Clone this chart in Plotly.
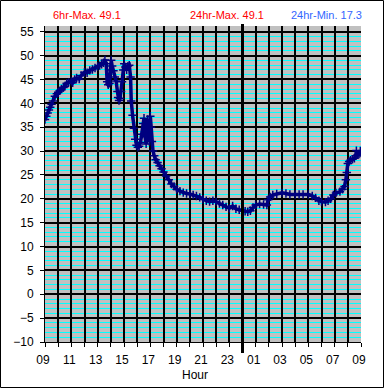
import plotly.graph_objects as go

# Hours since 09:00 (0 .. 24) and temperature readings
hours = [0.0, 0.1, 0.2, 0.3, 0.4, 0.5, 0.6, 0.75, 0.9, 1.0, 1.1, 1.25, 1.4, 1.5, 1.65, 1.8, 2.0, 2.1,
         2.25, 2.4, 2.6, 2.75, 3.0, 3.2, 3.4, 3.6, 3.8, 4.0, 4.15, 4.3, 4.45, 4.55, 4.65, 4.72, 4.8,
         4.9, 4.97, 5.03, 5.1, 5.2, 5.3, 5.4, 5.5, 5.55, 5.62, 5.7, 5.78, 5.85, 5.95, 6.02, 6.1, 6.2,
         6.3, 6.4, 6.5, 6.55, 6.65, 6.75, 6.85, 6.95, 7.05, 7.15, 7.25, 7.35, 7.45, 7.52, 7.6, 7.68,
         7.75, 7.8, 7.88, 7.93, 8.0, 8.05, 8.12, 8.2, 8.3, 8.4, 8.55, 8.7, 8.85, 9.0, 9.2, 9.4, 9.6,
         9.8, 10.0, 10.25, 10.5, 10.75, 11.0, 11.25, 11.5, 11.75, 12.0, 12.25, 12.5, 12.75, 13.0,
         13.25, 13.5, 13.75, 14.0, 14.25, 14.5, 14.75, 15.0, 15.2, 15.4, 15.6, 15.8, 16.0, 16.3,
         16.6, 16.85, 16.95, 17.1, 17.3, 17.6, 18.0, 18.3, 18.6, 19.0, 19.3, 19.6, 20.0, 20.3,
         20.55, 20.8, 21.0, 21.3, 21.5, 21.7, 21.9, 22.1, 22.4, 22.6, 22.75, 22.85, 22.92, 23.0,
         23.1, 23.2, 23.35, 23.5, 23.6, 23.65, 23.75, 23.85, 23.95, 24.0]
temps = [36.6, 37.3, 38.0, 38.6, 39.2, 39.8, 40.5, 41.5, 42.0, 42.3, 42.6, 43.0, 43.3, 43.5, 44.2,
         44.4, 44.6, 44.3, 45.0, 45.3, 45.1, 45.8, 46.5, 46.4, 46.9, 47.1, 47.4, 47.7, 47.9, 48.2,
         48.5, 49.1, 48.3, 44.5, 43.9, 44.2, 47.0, 49.0, 47.8, 46.8, 45.5, 44.7, 42.5, 41.2, 40.6,
         41.0, 42.5, 44.5, 47.0, 48.3, 47.6, 47.0, 47.8, 48.0, 45.5, 40.5, 37.5, 34.8, 32.5, 31.2,
         30.8, 31.0, 31.8, 33.5, 35.8, 36.9, 33.0, 31.5, 34.0, 36.6, 33.5, 32.0, 37.3, 35.0, 32.0,
         30.0, 29.0, 28.2, 27.6, 26.9, 26.3, 25.6, 24.8, 24.0, 23.1, 22.6, 22.0, 21.6, 21.3, 21.1,
         21.0, 20.8, 20.6, 20.3, 19.9, 19.6, 19.4, 19.6, 19.4, 19.0, 18.7, 18.3, 18.0, 18.5, 17.9,
         17.7, 17.5, 17.4, 17.3, 17.5, 18.2, 18.7, 18.9, 18.8, 18.7, 19.8, 20.4, 20.8, 21.0, 21.25,
         21.1, 20.9, 20.9, 20.9, 20.9, 20.9, 20.6, 20.2, 19.6, 19.4, 19.3, 19.6, 20.0, 20.8, 21.2,
         21.5, 22.0, 22.6, 24.0, 25.5, 27.4, 27.8, 28.1, 28.3, 28.5, 29.0, 30.1, 29.2, 29.4, 30.0,
         29.6]

# hourly ticks, labelled every two hours
tick_vals = list(range(0, 25))
tick_text = ["09", "", "11", "", "13", "", "15", "", "17", "", "19", "", "21", "", "23", "",
             "01", "", "03", "", "05", "", "07", "", "09"]
y_ticks = list(range(-10, 56, 5))

header_texts = ["6hr-Max. 49.1", "24hr-Max. 49.1", "24hr-Min. 17.3"]
header_colors = ["#FF0000", "#FF0000", "#3366FF"]

W, H = 385, 388
L, R, T, B = 45, 24, 26, 46
PW, PH = W - L - R, H - T - B

fig = go.Figure()
fig.add_trace(go.Scatter(
    x=hours, y=temps, mode="lines+markers",
    line=dict(color="#000080", width=3.5),
    marker=dict(symbol="cross-thin", size=6, color="#000080",
                line=dict(color="#000080", width=1.5)),
    hoverinfo="x+y", showlegend=False,
))

font = "Liberation Sans, Arial, sans-serif"
fig.update_layout(
    width=W, height=H,
    margin=dict(l=L, r=R, t=T, b=B),
    paper_bgcolor="white", plot_bgcolor="#C0C0C0",
    font=dict(family=font, size=12, color="black"),
    xaxis=dict(
        range=[0, 24], tickvals=tick_vals, ticktext=tick_text,
        showgrid=True, gridcolor="black", gridwidth=2,
        ticks="outside", ticklen=4, tickcolor="black",
        showline=True, linecolor="black", linewidth=1,
        zeroline=False, tickfont=dict(size=12),
        ticklabelstandoff=3, ticklabelshift=-2,
    ),
    yaxis=dict(
        range=[-10, 56.2], tickvals=y_ticks,
        showgrid=True, gridcolor="black", gridwidth=2,
        ticks="outside", ticklen=4, tickcolor="black",
        showline=True, linecolor="black", linewidth=1,
        zeroline=False, tickfont=dict(size=12),
        ticklabelstandoff=4,
        minor=dict(dtick=1, tick0=0, showgrid=True, gridcolor="#00FFFF", gridwidth=1),
    ),
)

# midnight marker line
fig.add_shape(type="line", xref="x", yref="paper", x0=15, x1=15,
              y0=-11 / PH, y1=1 + 2 / PH, line=dict(color="black", width=3))
# outer frame
fig.add_shape(type="rect", xref="paper", yref="paper",
              x0=(0.5 - L) / PW, x1=(383.5 - L) / PW,
              y0=(T + PH - 387.5) / PH, y1=(T + PH - 0.5) / PH,
              line=dict(color="black", width=1), fillcolor="rgba(0,0,0,0)")

header_x = [87, 227, 326]
for txt, col, px in zip(header_texts, header_colors, header_x):
    fig.add_annotation(text=txt, x=(px - L) / PW, y=(T + PH - 15) / PH,
                       xref="paper", yref="paper", showarrow=False,
                       xanchor="center", yanchor="middle",
                       font=dict(color=col, size=11, family=font))

fig.add_annotation(text="Hour", x=(195 - L) / PW, y=(T + PH - 375) / PH,
                   xref="paper", yref="paper", showarrow=False,
                   xanchor="center", yanchor="middle",
                   font=dict(size=12, family=font, color="black"))

fig.write_html("out.html", config={"displayModeBar": False},
               post_script="document.body.style.margin='0';document.body.style.overflow='hidden';")
